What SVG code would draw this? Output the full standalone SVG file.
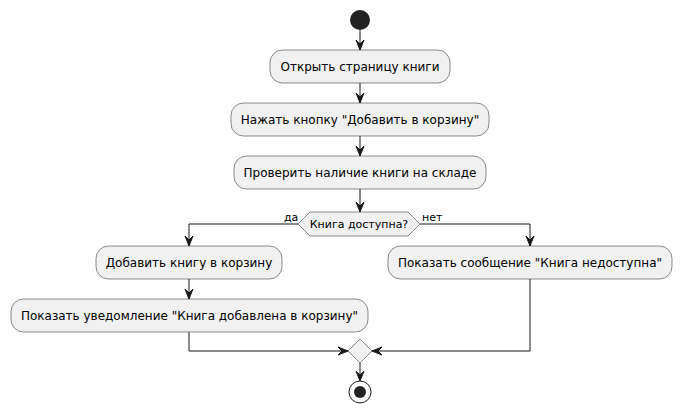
<svg xmlns="http://www.w3.org/2000/svg" width="682" height="415" viewBox="0 0 682 415">
<defs>
<style>
.box{fill:#F1F1F1;stroke:#181818;stroke-width:0.5}
.t{font-family:"DejaVu Sans",sans-serif;font-size:12px;fill:#000}
.l{font-family:"DejaVu Sans",sans-serif;font-size:11px;fill:#000}
.c{fill:none;stroke:#181818;stroke-width:1}
.ah{fill:#181818;stroke:#181818;stroke-width:1}
</style>
</defs>
<rect width="682" height="415" fill="#FFFFFF"/>
<g id="start"><circle cx="360" cy="20" r="10" fill="#222222"/></g>
<g id="n1"><rect class="box" x="270" y="50" width="180" height="33" rx="12.5"/><text class="t" x="360" y="71" text-anchor="middle">Открыть страницу книги</text></g>
<g id="n2"><rect class="box" x="231" y="103" width="258" height="33" rx="12.5"/><text class="t" x="360" y="124" text-anchor="middle">Нажать кнопку "Добавить в корзину"</text></g>
<g id="n3"><rect class="box" x="234" y="156" width="252" height="33" rx="12.5"/><text class="t" x="360" y="177" text-anchor="middle">Проверить наличие книги на складе</text></g>
<g id="d1"><polygon class="box" points="298,224 310,212 408,212 420,224 408,236 310,236"/><text class="l" x="359" y="228" text-anchor="middle">Книга доступна?</text></g>
<g id="n4"><rect class="box" x="96" y="246" width="186" height="33" rx="12.5"/><text class="t" x="189" y="267" text-anchor="middle">Добавить книгу в корзину</text></g>
<g id="n5"><rect class="box" x="11" y="299" width="357" height="33" rx="12.5"/><text class="t" x="189.5" y="320" text-anchor="middle">Показать уведомление "Книга добавлена в корзину"</text></g>
<g id="n6"><rect class="box" x="388" y="246" width="284" height="33" rx="12.5"/><text class="t" x="530" y="267" text-anchor="middle">Показать сообщение "Книга недоступна"</text></g>
<g id="merge"><polygon class="box" points="348,351 360,339 372,351 360,363"/></g>
<g id="end"><circle cx="360" cy="392" r="11" fill="none" stroke="#222222" stroke-width="1"/><circle cx="360" cy="392" r="6" fill="#222222"/></g>
<g id="connectors">
<path class="c" d="M360,30 V50"/><polygon class="ah" points="356,40 360,50 364,40 360,44"/>
<path class="c" d="M360,83 V103"/><polygon class="ah" points="356,93 360,103 364,93 360,97"/>
<path class="c" d="M360,136 V156"/><polygon class="ah" points="356,146 360,156 364,146 360,150"/>
<path class="c" d="M360,189 V212"/><polygon class="ah" points="356,202 360,212 364,202 360,206"/>
<path class="c" d="M298,224 H189 V246"/><polygon class="ah" points="185,236 189,246 193,236 189,240"/>
<text class="l" x="284" y="221">да</text>
<path class="c" d="M420,224 H530 V246"/><polygon class="ah" points="526,236 530,246 534,236 530,240"/>
<text class="l" x="422" y="221">нет</text>
<path class="c" d="M189,279 V299"/><polygon class="ah" points="185,289 189,299 193,289 189,293"/>
<path class="c" d="M189,332 V351 H348"/><polygon class="ah" points="338,347 348,351 338,355 342,351"/>
<path class="c" d="M530,279 V351 H372"/><polygon class="ah" points="382,347 372,351 382,355 378,351"/>
<path class="c" d="M360,363 V381"/><polygon class="ah" points="356,371 360,381 364,371 360,375"/>
</g>
</svg>
